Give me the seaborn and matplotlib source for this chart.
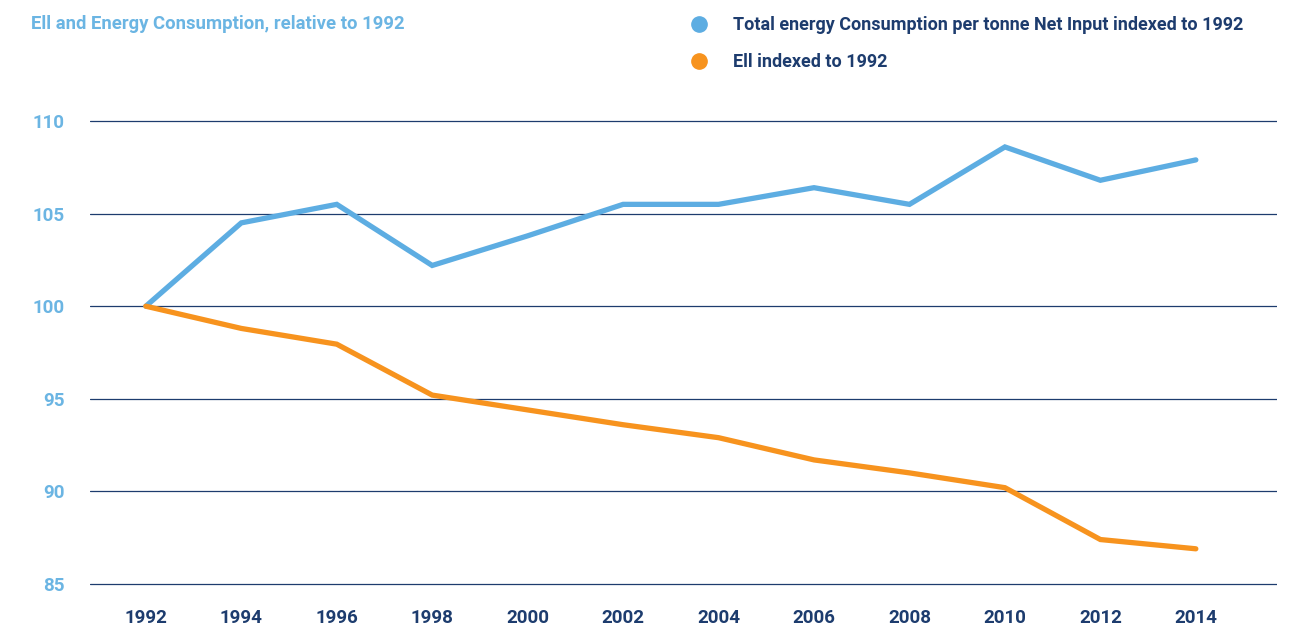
import matplotlib
matplotlib.use("Agg")
import matplotlib.pyplot as plt
from matplotlib.lines import Line2D
import seaborn as sns
import pandas as pd

years = [1992, 1994, 1996, 1998, 2000, 2002, 2004, 2006, 2008, 2010, 2012, 2014]
energy = [100, 104.5, 105.5, 102.2, 103.8, 105.5, 105.5, 106.4, 105.5, 108.6, 106.8, 107.9]
eii = [100, 98.8, 97.95, 95.2, 94.4, 93.6, 92.9, 91.7, 91.0, 90.2, 87.4, 86.9]
series_names = ["Total energy Consumption per tonne Net Input indexed to 1992", "Ell indexed to 1992"]
colors = ["#5dade2", "#f7931e"]
yticks = [85, 90, 95, 100, 105, 110]

navy = "#1d3c6e"
light = "#6bb5e3"

sns.set_theme(style="white")
plt.rcParams["font.family"] = ["Roboto", "DejaVu Sans"]

df = pd.DataFrame({"year": years * 2,
                   "value": energy + eii,
                   "series": [series_names[0]] * len(years) + [series_names[1]] * len(years)})

fig = plt.figure(figsize=(12.93, 6.25), dpi=100)
ax = fig.add_axes([0.0696, 0.0597, 0.918, 0.7526])
sns.lineplot(data=df, x="year", y="value", hue="series", palette=colors,
             linewidth=3.8, legend=False, ax=ax, solid_joinstyle="miter")

ax.set_xlim(1990.83, 2015.70)
ax.set_ylim(84.8, 110.2)
ax.set_xticks(years)
ax.set_yticks(yticks)
ax.set_xticklabels([str(y) for y in years], color=navy, fontsize=13.5, fontweight="bold")
ax.set_yticklabels([str(y) for y in yticks], color=light, fontsize=13.5, fontweight="bold")
ax.tick_params(axis="x", length=0, pad=15)
ax.tick_params(axis="y", length=0, pad=18)
ax.set_xlabel("")
ax.set_ylabel("")
for s in ax.spines.values():
    s.set_visible(False)
for t in yticks:
    ax.axhline(t, color=navy, linewidth=0.9, zorder=0)

fig.text(0.024, 0.962, "Ell and Energy Consumption, relative to 1992", color=light,
         fontsize=13.3, fontweight="bold", va="center", ha="left")

handles = [Line2D([], [], marker="o", linestyle="", markersize=11, color=c) for c in colors]
leg = fig.legend(handles, series_names, loc="upper left", bbox_to_anchor=(0.514, 1.0),
                 frameon=False, handletextpad=0.9, labelspacing=1.05,
                 prop={"size": 13.0, "weight": "bold"})
for txt in leg.get_texts():
    txt.set_color(navy)

fig.savefig("out.png", dpi=100)
